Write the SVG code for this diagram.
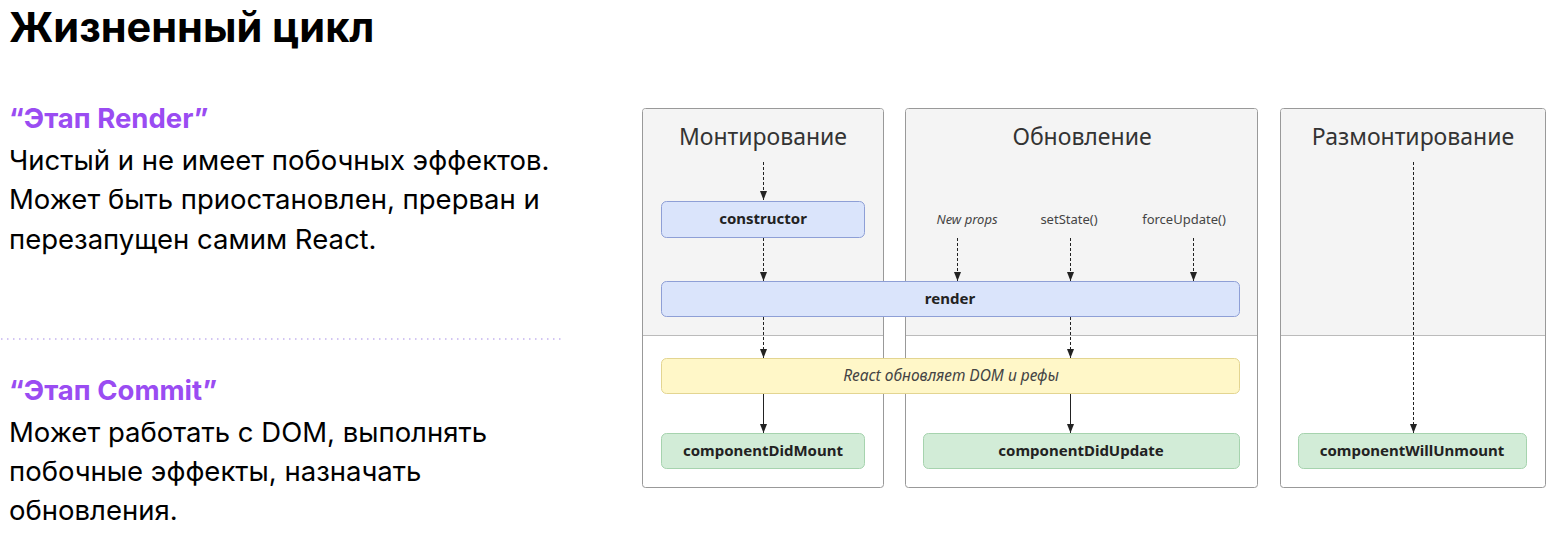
<svg xmlns="http://www.w3.org/2000/svg" width="1563" height="550" viewBox="0 0 1563 550">
<defs>
<style>
.h1{font-family:Inter,"Noto Sans",sans-serif;font-weight:700;font-size:41.5px;fill:#000}
.ph{font-family:Inter,"Noto Sans",sans-serif;font-weight:700;font-size:27.5px;fill:#9a4cf2}
.bd{font-family:Inter,"Noto Sans",sans-serif;font-size:27.5px;fill:#000}
.pt{font-family:"Noto Sans","DejaVu Sans",sans-serif;font-size:23px;fill:#333;text-anchor:middle}
.bx{font-family:"Noto Sans","DejaVu Sans",sans-serif;font-size:15px;font-weight:700;fill:#222;text-anchor:middle}
.lb{font-family:"Noto Sans","DejaVu Sans",sans-serif;font-size:13px;fill:#444;text-anchor:middle}
.it{font-style:italic}
.panel{fill:#fff;stroke:#999;stroke-width:1}
.top{fill:#f4f4f4}
.div{stroke:#bbb;stroke-width:1}
.blue{fill:#dae4fb;stroke:#8e9fd6;stroke-width:1}
.yel{fill:#fff7c8;stroke:#e3d591;stroke-width:1}
.grn{fill:#d2ecd7;stroke:#a6d3ae;stroke-width:1}
.dash{stroke:#222;stroke-width:1;stroke-dasharray:3 2;fill:none}
.sol{stroke:#222;stroke-width:1;fill:none}
</style>
<marker id="ah" markerWidth="9" markerHeight="8" refX="9" refY="4" orient="auto" markerUnits="userSpaceOnUse" viewBox="0 0 9 8">
<path d="M0,0.5 L9,4 L0,7.5 Z" fill="#222"/>
</marker>
</defs>
<rect width="1563" height="550" fill="#fff"/>

<g id="left-text">
<text class="h1" x="9" y="42">Жизненный цикл</text>
<text class="ph" x="9" y="128">“Этап Render”</text>
<text class="bd" x="9" y="170">Чистый и не имеет побочных эффектов.</text>
<text class="bd" x="9" y="209">Может быть приостановлен, прерван и</text>
<text class="bd" x="9" y="249">перезапущен самим React.</text>
<line x1="1" y1="339" x2="562" y2="339" stroke="#c4b3ef" stroke-width="1.5" stroke-dasharray="1.5 4.5"/>
<text class="ph" x="9" y="400">“Этап Commit”</text>
<text class="bd" x="9" y="442">Может работать с DOM, выполнять</text>
<text class="bd" x="9" y="481">побочные эффекты, назначать</text>
<text class="bd" x="9" y="520">обновления.</text>
</g>

<g id="panel-mount">
<rect class="panel" x="642.5" y="108.5" width="241" height="379" rx="3"/>
<path class="top" d="M643,335 V111.5 a2.5,2.5 0 0 1 2.5,-2.5 H880.5 a2.5,2.5 0 0 1 2.5,2.5 V335 Z"/>
<line class="div" x1="643" y1="335.5" x2="883" y2="335.5"/>
<text class="pt" x="763" y="145">Монтирование</text>
</g>
<g id="panel-update">
<rect class="panel" x="905.5" y="108.5" width="352" height="379" rx="3"/>
<path class="top" d="M906,335 V111.5 a2.5,2.5 0 0 1 2.5,-2.5 H1254.5 a2.5,2.5 0 0 1 2.5,2.5 V335 Z"/>
<line class="div" x1="906" y1="335.5" x2="1257" y2="335.5"/>
<text class="pt" x="1082" y="145">Обновление</text>
<text class="lb it" x="967" y="224">New props</text>
<text class="lb" x="1069" y="224">setState()</text>
<text class="lb" x="1184" y="224">forceUpdate()</text>
</g>
<g id="panel-unmount">
<rect class="panel" x="1280.5" y="108.5" width="265" height="379" rx="3"/>
<path class="top" d="M1281,335 V111.5 a2.5,2.5 0 0 1 2.5,-2.5 H1542.5 a2.5,2.5 0 0 1 2.5,2.5 V335 Z"/>
<line class="div" x1="1281" y1="335.5" x2="1545" y2="335.5"/>
<text class="pt" x="1413" y="145">Размонтирование</text>
</g>

<g id="node-constructor">
<rect class="blue" x="661.5" y="201.5" width="203" height="36" rx="5"/>
<text class="bx" x="763" y="224">constructor</text>
</g>
<g id="node-render">
<rect class="blue" x="661.5" y="281.5" width="578" height="35" rx="5"/>
<text class="bx" x="950" y="304">render</text>
</g>
<g id="node-react-dom">
<rect class="yel" x="661.5" y="358.5" width="578" height="35" rx="5"/>
<text class="lb it" x="951" y="381" style="font-size:15.5px">React обновляет DOM и рефы</text>
</g>
<g id="node-didmount">
<rect class="grn" x="661.5" y="433.5" width="203" height="35" rx="5"/>
<text class="bx" x="763" y="456">componentDidMount</text>
</g>
<g id="node-didupdate">
<rect class="grn" x="923.5" y="433.5" width="316" height="35" rx="5"/>
<text class="bx" x="1081" y="456">componentDidUpdate</text>
</g>
<g id="node-willunmount">
<rect class="grn" x="1298.5" y="433.5" width="228" height="35" rx="5"/>
<text class="bx" x="1412" y="456">componentWillUnmount</text>
</g>

<g id="connectors">
<line class="dash" x1="763.5" y1="162" x2="763.5" y2="200" marker-end="url(#ah)"/>
<line class="dash" x1="763.5" y1="238" x2="763.5" y2="281" marker-end="url(#ah)"/>
<line class="dash" x1="763.5" y1="317" x2="763.5" y2="358" marker-end="url(#ah)"/>
<line class="sol" x1="763.5" y1="394" x2="763.5" y2="433" marker-end="url(#ah)"/>
<line class="dash" x1="957.5" y1="238" x2="957.5" y2="281" marker-end="url(#ah)"/>
<line class="dash" x1="1070.5" y1="238" x2="1070.5" y2="281" marker-end="url(#ah)"/>
<line class="dash" x1="1193.5" y1="238" x2="1193.5" y2="281" marker-end="url(#ah)"/>
<line class="dash" x1="1070.5" y1="317" x2="1070.5" y2="358" marker-end="url(#ah)"/>
<line class="sol" x1="1070.5" y1="394" x2="1070.5" y2="433" marker-end="url(#ah)"/>
<line class="dash" x1="1413.5" y1="162" x2="1413.5" y2="433" marker-end="url(#ah)"/>
</g>
</svg>
